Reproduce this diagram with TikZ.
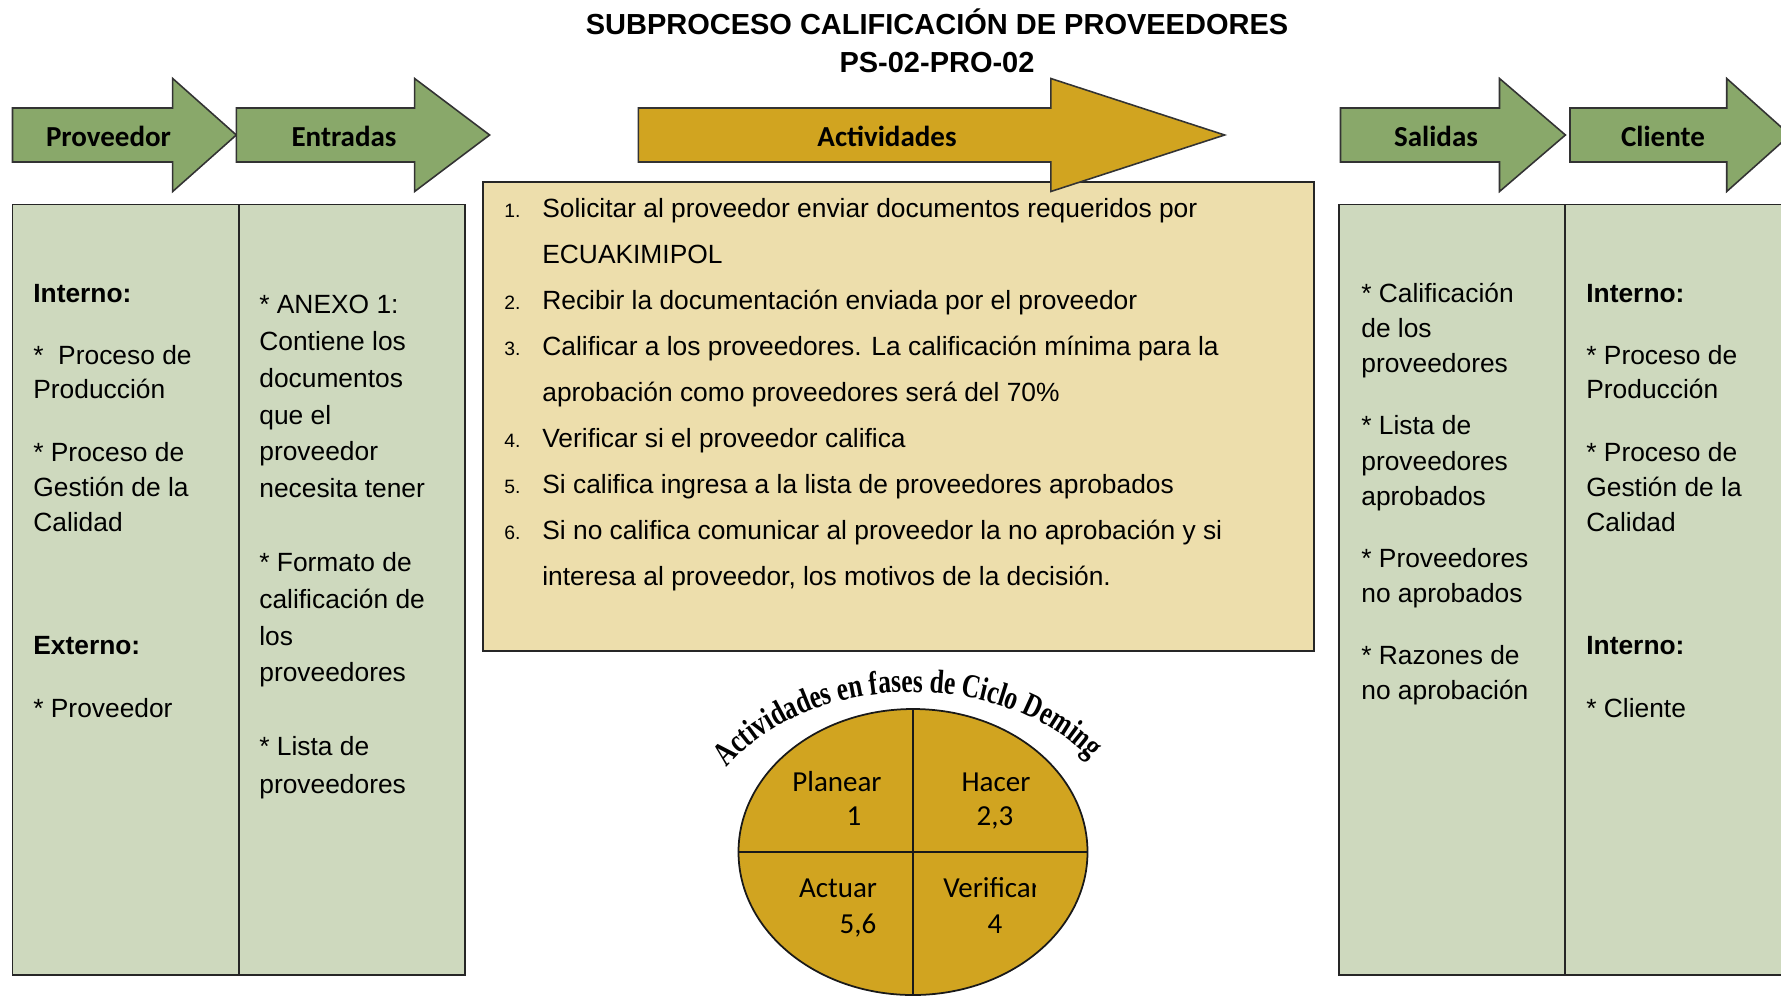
\documentclass[tikz,border=0pt]{standalone}
\usepackage{fontspec}
\setmainfont{Liberation Sans}
\newfontfamily\calibri{Carlito}
\newfontfamily\romana[FakeStretch=0.76]{Liberation Serif}
\usetikzlibrary{shapes.geometric,decorations.text}
\definecolor{verdeflecha}{RGB}{137,168,106}
\definecolor{verdecaja}{RGB}{206,217,190}
\definecolor{oro}{RGB}{209,164,32}
\definecolor{trigo}{RGB}{237,222,172}
\tikzset{
  flecha/.style={draw=black!80, line width=0.9pt, fill=#1},
  flecha/.default={verdeflecha},
  col/.style={draw=black!85, line width=1.1pt, fill=#1},
  col/.default={verdecaja},
  txt/.style={anchor=base west, inner sep=0pt, font=\fontsize{15}{18}\selectfont},
  num/.style={anchor=base west, inner sep=0pt, font=\fontsize{11}{13}\selectfont},
  etq/.style={font=\calibri\bfseries\fontsize{16.5}{20}\selectfont, inner sep=0pt},
  fase/.style={anchor=base, font=\calibri\fontsize{16.5}{20}\selectfont, inner sep=0pt},
}

\begin{document}
\begin{tikzpicture}[x=0.2mm, y=-0.2mm]
\clip (0,0) rectangle (1781,997);
\node[anchor=base, font=\bfseries\fontsize{16.5}{20}\selectfont] (titulo) at (937,34) {SUBPROCESO CALIFICACIÓN DE PROVEEDORES};
\node[anchor=base, font=\bfseries\fontsize{16.5}{20}\selectfont] (codigo) at (937,72) {PS-02-PRO-02};

\draw[col] (12.5,204.5) rectangle (464.6,974.7);
\draw[line width=1.1pt, black!85] (238.6,204.5) -- (238.6,974.7);
\draw[col] (1339.4,204.5) rectangle (1800,974.7);
\draw[line width=1.1pt, black!85] (1565.4,204.5) -- (1565.4,974.7);
\draw[col=trigo] (482.8,181.8) rectangle (1314.4,651);

\foreach \xa/\xb/\xc in {12.5/172.7/236.3, 236.3/414.6/489.6, 1340.5/1499.5/1565.4, 1570/1726.7/1790}
  \draw[flecha] (\xa,108) -- (\xb,108) -- (\xb,78.5) -- (\xc,135) -- (\xb,191.5) -- (\xb,162) -- (\xa,162) -- cycle;
\draw[flecha=oro] (638.4,108) -- (1050.8,108) -- (1050.8,78.5) -- (1224.6,135) -- (1050.8,191.5) -- (1050.8,162) -- (638.4,162) -- cycle;

\node[etq] (proveedor) at (108.5,136) {Proveedor};
\node[etq] (entradas) at (344,136) {Entradas};
\node[etq] (actividades) at (887,136) {Actividades};
\node[etq] (salidas) at (1436,136) {Salidas};
\node[etq] (cliente) at (1663,136) {Cliente};

\foreach \y/\t [count=\i] in {302/{\bfseries Interno:}, 364/{*~ Proceso de}, 398/{Producción}, 461/{* Proceso de}, 496/{Gestión de la}, 531/{Calidad}, 654/{\bfseries Externo:}, 717/{* Proveedor}}
  \node[txt] (prv\i) at (33,\y) {\t};
\foreach \y/\t [count=\i] in {313/{* ANEXO 1:}, 350/{Contiene los}, 387/{documentos}, 424/{que el}, 460/{proveedor}, 497/{necesita tener}, 571/{* Formato de}, 608/{calificación de}, 645/{los}, 681/{proveedores}, 755/{* Lista de}, 793/{proveedores}}
  \node[txt] (ent\i) at (259,\y) {\t};
\foreach \y/\t [count=\i] in {217/{Solicitar al proveedor enviar documentos requeridos por}, 263/{ECUAKIMIPOL}, 309/{Recibir la documentación enviada por el proveedor}, 355/{Calificar a los proveedores. La calificación mínima para la}, 401/{aprobación como proveedores será del 70\%}, 447/{Verificar si el proveedor califica}, 493/{Si califica ingresa a la lista de proveedores aprobados}, 539/{Si no califica comunicar al proveedor la no aprobación y si}, 585/{interesa al proveedor, los motivos de la decisión.}}
  \node[txt] (act\i) at (542,\y) {\t};
\foreach \n/\y in {1/217, 2/309, 3/355, 4/447, 5/493, 6/539}
  \node[num] (num\n) at (504,\y) {\n.};
\foreach \y/\t [count=\i] in {302/{* Calificación}, 337/{de los}, 372/{proveedores}, 434/{* Lista de}, 470/{proveedores}, 505/{aprobados}, 567/{* Proveedores}, 602/{no aprobados}, 664/{* Razones de}, 699/{no aprobación}}
  \node[txt] (sal\i) at (1361,\y) {\t};
\foreach \y/\t [count=\i] in {302/{\bfseries Interno:}, 364/{* Proceso de}, 398/{Producción}, 461/{* Proceso de}, 496/{Gestión de la}, 531/{Calidad}, 654/{\bfseries Interno:}, 717/{* Cliente}}
  \node[txt] (cli\i) at (1586,\y) {\t};

\node[ellipse, draw=black!90, line width=1pt, fill=oro, inner sep=0pt, minimum width=69.8mm, minimum height=57.2mm] (ciclo) at (913,852) {};
\draw[line width=1pt, black!90] (ciclo.north) -- (ciclo.south);
\draw[line width=1pt, black!90] (ciclo.west) -- (ciclo.east);
\node[fase] (planear) at (837,791) {Planear};
\node[fase] (uno) at (854,825) {1};
\node[fase] (hacer) at (996,791) {Hacer};
\node[fase] (dostres) at (995,825) {2,3};
\node[fase] (actuar) at (838,897) {Actuar};
\node[fase] (cincoseis) at (858,933) {5,6};
\begin{scope}
  \clip (930,860) rectangle (1035,910);
  \node[fase, anchor=base west] (verificar) at (943,897) {Verificar};
\end{scope}
\node[fase] (cuatro) at (995,933) {4};

\path[decorate, decoration={text along path, text align=center,
  text={|\romana\bfseries\fontsize{19}{22}\selectfont|Actividades en fases de Ciclo Deming}}]
  (716,782) arc[start angle=-154, end angle=-30, x radius=219, y radius=160];
\end{tikzpicture}
\end{document}
